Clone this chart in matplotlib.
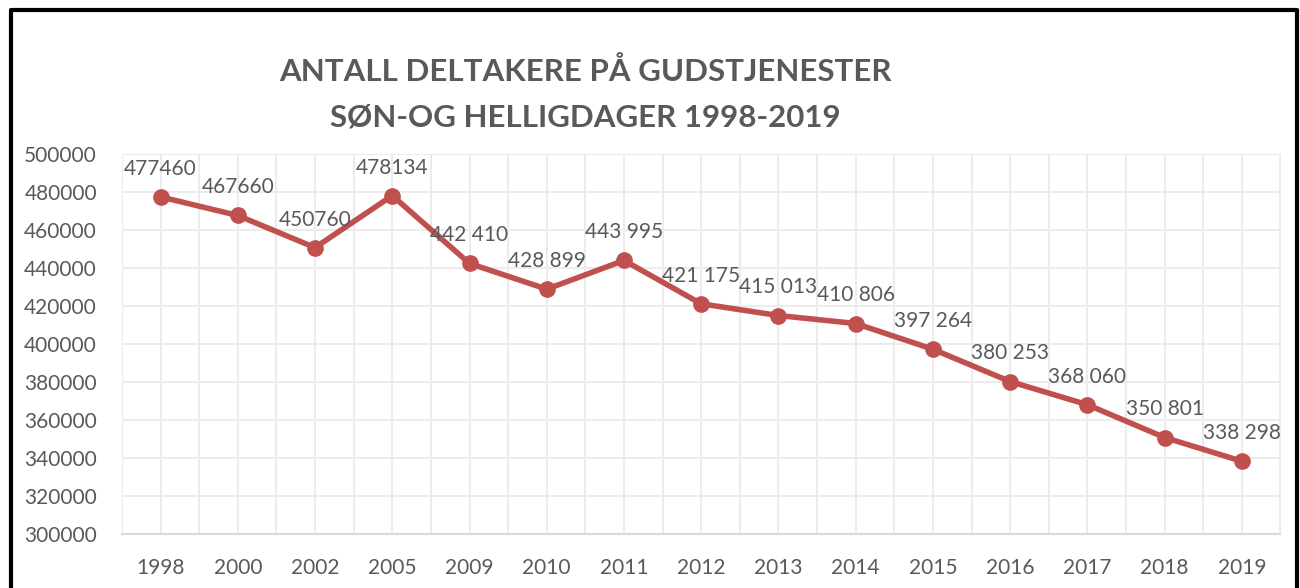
import numpy as np
import matplotlib.pyplot as plt
from matplotlib.lines import Line2D

years = ['1998', '2000', '2002', '2005', '2009', '2010', '2011', '2012', '2013',
         '2014', '2015', '2016', '2017', '2018', '2019']
deltakere = [477460, 467660, 450760, 478134, 442410, 428899, 443995, 421175, 415013,
             410806, 397264, 380253, 368060, 350801, 338298]
etiketter = ['477460', '467660', '450760', '478134', '442 410', '428 899', '443 995',
             '421 175', '415 013', '410 806', '397 264', '380 253', '368 060',
             '350 801', '338 298']

plt.rcParams['font.family'] = ['Lato', 'DejaVu Sans']
grey = '#595959'
red = '#C0504D'

fig = plt.figure(figsize=(13, 5.88), dpi=100)
ax = fig.add_axes([0.0938, 0.0918, 0.8912, 0.6462])

X = np.arange(len(years))
ax.plot(X, deltakere, color=red, lw=4, marker='o', ms=11, zorder=3)
for x, y, s in zip(X, deltakere, etiketter):
    ax.annotate(s, (x, y), xytext=(0, 13), textcoords='offset points',
                ha='center', va='bottom', fontsize=15, color=grey)

ax.set_xlim(-0.5, len(years) - 0.5)
ax.set_ylim(300000, 500000)
ax.set_yticks(np.arange(300000, 500001, 20000))
ax.set_xticks(X)
ax.set_xticklabels(years)
ax.set_xticks(np.arange(-0.5, len(years), 1), minor=True)
ax.grid(True, which='both', color='#ececec', lw=1.5, zorder=0)
ax.tick_params(which='both', length=0, labelsize=15, labelcolor=grey)
ax.tick_params(axis='x', pad=17)
ax.tick_params(axis='y', pad=18)
for side in ['left', 'top', 'right']:
    ax.spines[side].set_visible(False)
ax.spines['bottom'].set_color('#d9d9d9')
ax.spines['bottom'].set_linewidth(1.5)

fig.text(0.45, 0.878, 'ANTALL DELTAKERE PÅ GUDSTJENESTER', ha='center', va='center',
         fontsize=22.5, fontweight='bold', color=grey)
fig.text(0.45, 0.800, 'SØN-OG HELLIGDAGER 1998-2019', ha='center', va='center',
         fontsize=22.5, fontweight='bold', color=grey)

# ramme rundt figuren
fig.add_artist(Line2D([0.0085, 0.0085, 0.9975, 0.9975], [0, 0.983, 0.983, 0],
                      transform=fig.transFigure, color='black', lw=3))

plt.savefig('out.png', dpi=100)
